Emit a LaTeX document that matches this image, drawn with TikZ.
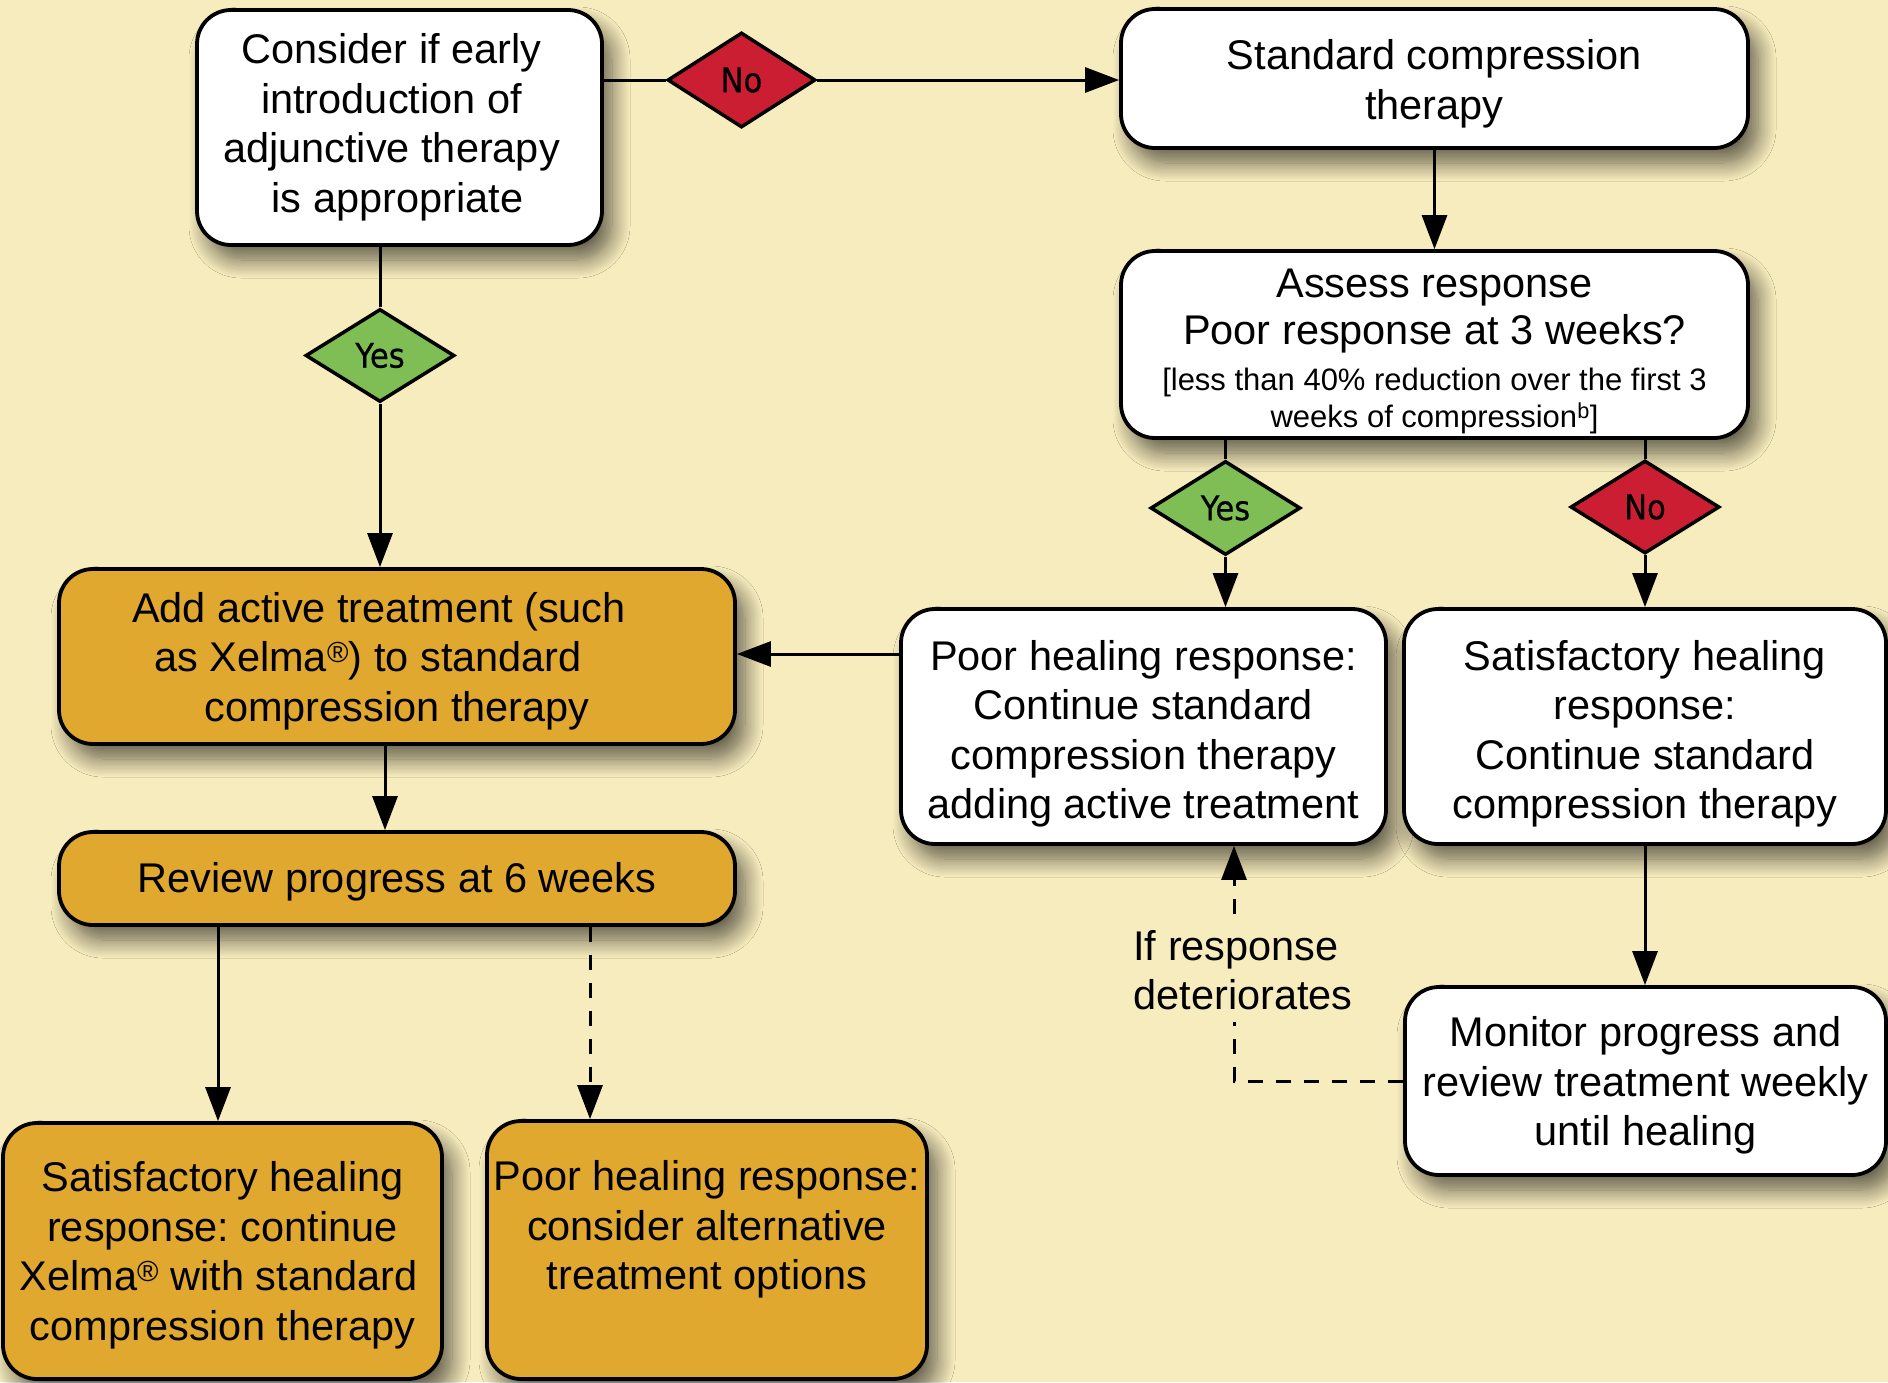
\documentclass[tikz,border=0pt]{standalone}
\usepackage{fontspec}
\setmainfont{Liberation Sans}
\newfontfamily\diafont[FakeStretch=0.9,FakeBold=0.6]{DejaVu Sans}
\usetikzlibrary{shapes.geometric,arrows.meta,shadows.blur}
\definecolor{bgc}{RGB}{247,236,189}
\definecolor{orangec}{RGB}{224,168,46}
\definecolor{redc}{RGB}{203,30,50}
\definecolor{greenc}{RGB}{126,190,85}
\newcommand{\tophtx}[1]{\rule{0pt}{#1pt}}
\frenchspacing
\tikzset{
 box/.style={draw, line width=3.8pt, rounded corners=34pt, fill=white, align=center, inner sep=0pt,
   font=\fontsize{41.5}{49.5}\selectfont,
   blur shadow={shadow xshift=10pt, shadow yshift=-15pt, shadow blur radius=18pt, shadow opacity=60, shadow blur steps=14}},
 obox/.style={box, fill=orangec},
 dia/.style={diamond, draw, line width=3.5pt, inner sep=0pt, font=\diafont\fontsize{34}{34}\selectfont},
 ydia/.style={dia, fill=greenc},
 ndia/.style={dia, fill=redc},
 conn/.style={line width=3pt},
 arr/.style={conn, -{Triangle[length=34pt,width=25pt]}},
 dsh/.style={dash pattern=on 15pt off 13pt},
}
\begin{document}
\begin{tikzpicture}[x=1pt,y=-1pt]
\useasboundingbox (0,0) rectangle (1888,1382);
\clip (0,0) rectangle (1888,1382);
\fill[bgc] (0,0) rectangle (1888,1382);

% boxes
\node[box, minimum width=405pt, minimum height=235pt] (A) at (399.5,127.5)
  {Consider if early\rule{16pt}{0pt}\\introduction of\rule{16pt}{0pt}\\adjunctive therapy\rule{16pt}{0pt}\\is appropriate\rule{4pt}{0pt}};
\node[box, minimum width=627pt, minimum height=139pt] (B) at (1434.5,78.5)
  {\tophtx{41}Standard compression\\therapy};
\node[box, minimum width=627pt, minimum height=187pt] (C) at (1434.5,344.5)
  {\tophtx{42}Assess response\\[-2.5pt]Poor response at 3 weeks?\\[-3.5pt]
   {\fontsize{31}{37}\selectfont [less than 40\% reduction over the first 3}\\[-12.5pt]
   {\fontsize{31}{37}\selectfont weeks of compression\textsuperscript{b}]}};
\node[box, minimum width=485pt, minimum height=235pt] (D) at (1143.5,726.5)
  {\tophtx{45}Poor healing response:\\Continue standard\\compression therapy\\adding active treatment};
\node[box, minimum width=482pt, minimum height=235pt] (E) at (1645,726.5)
  {\tophtx{45}Satisfactory healing\\response:\\Continue standard\\compression therapy};
\node[box, minimum width=481pt, minimum height=188pt] (F) at (1645.5,1081)
  {\tophtx{39}Monitor progress and\\review treatment weekly\\until healing};
\node[obox, minimum width=676pt, minimum height=175pt] (G) at (397,656.5)
  {\tophtx{39}Add active treatment (such\rule{36pt}{0pt}\\as Xelma\textsuperscript{®}) to standard\rule{58pt}{0pt}\\compression therapy};
\node[obox, minimum width=676pt, minimum height=93pt] (H) at (397,878.5)
  {\tophtx{36}Review progress at 6 weeks};
\node[obox, minimum width=439pt, minimum height=256pt] (I) at (222.5,1251)
  {\tophtx{39}Satisfactory healing\\response: continue\\Xelma\textsuperscript{®} with standard\rule{8pt}{0pt}\\compression therapy};
\node[obox, minimum width=440pt, minimum height=258pt] (J) at (707,1250)
  {\tophtx{39}Poor healing response:\\consider alternative\\treatment options\\\rule[-8.7pt]{0pt}{30pt}};

% diamonds
\node[ndia, minimum width=148pt, minimum height=95pt] (NoT) at (741.5,80) {No};
\node[ydia, minimum width=149pt, minimum height=93pt] (YesL) at (380,355.5) {Yes};
\node[ydia, minimum width=150pt, minimum height=94pt] (YesR) at (1225.5,508) {Yes};
\node[ndia, minimum width=149pt, minimum height=93pt] (NoR) at (1645,507) {No};

% connectors
\draw[conn] (NoT.west) -- (NoT.west -| A.east);
\draw[arr] (NoT.east) -- (NoT.east -| B.west);
\draw[arr] (B.south) -- (C.north);
\draw[conn] (YesL.north |- A.south) -- (YesL.north);
\draw[arr] (YesL.south) -- (YesL.south |- G.north);
\draw[conn] (YesR.north |- C.south) -- (YesR.north);
\draw[arr] (YesR.south) -- (YesR.south |- D.north);
\draw[conn] (NoR.north |- C.south) -- (NoR.north);
\draw[arr] (NoR.south) -- (NoR.south |- E.north);
\draw[arr] (E.south) -- (E.south |- F.north);
\coordinate (dg) at (901,654);
\draw[arr] (dg -| D.west) -- (dg -| G.east);
\coordinate (gh) at (385,744);
\draw[arr] (gh |- G.south) -- (gh |- H.north);
\coordinate (hi) at (218,925);
\draw[arr] (hi |- H.south) -- (hi |- I.north);
\coordinate (hj) at (590,925);
\draw[arr,dsh] (hj |- H.south) -- (hj |- J.north);
\coordinate (fd) at (1234,1081);
\draw[arr,dsh] (F.west) -- (fd) -- node[pos=0.47, fill=bgc, align=left, inner xsep=2pt,
   minimum height=103pt, xshift=9pt, font=\fontsize{41.5}{49}\selectfont] (lbl)
   {If response\\deteriorates} (fd |- D.south);
\end{tikzpicture}
\end{document}
